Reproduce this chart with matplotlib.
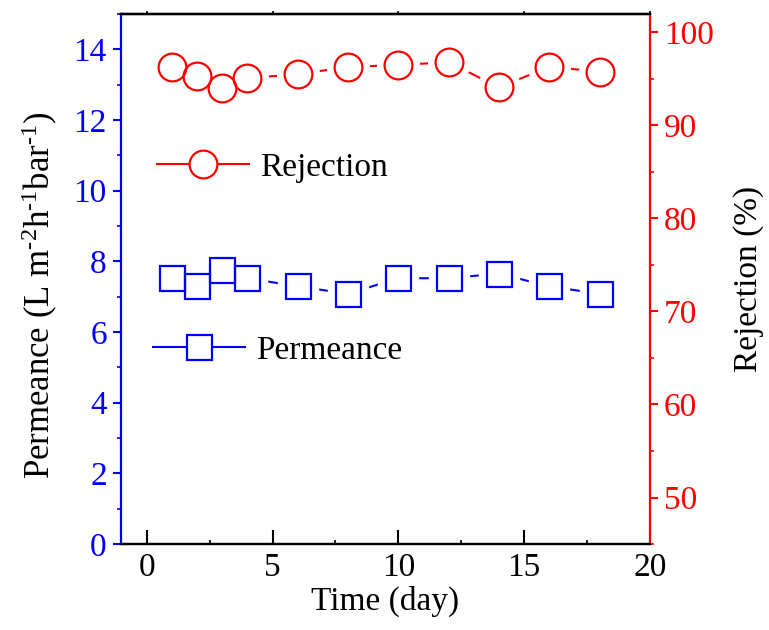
import matplotlib
matplotlib.use("Agg")
import matplotlib.pyplot as plt
from matplotlib.lines import Line2D
from matplotlib.ticker import MultipleLocator

plt.rcParams['font.family'] = ['Liberation Serif', 'DejaVu Serif']
plt.rcParams['mathtext.fontset'] = 'custom'
plt.rcParams['mathtext.rm'] = 'Liberation Serif'
plt.rcParams['mathtext.it'] = 'Liberation Serif:italic'

days = [1, 2, 3, 4, 6, 8, 10, 12, 14, 16, 18]
rejection = [96.3, 95.3, 94.0, 95.1, 95.5, 96.3, 96.5, 96.8, 94.1, 96.3, 95.8]
permeance = [7.52, 7.29, 7.74, 7.52, 7.29, 7.08, 7.52, 7.52, 7.65, 7.29, 7.08]

FS = 24
BLUE = '#0000ff'
RED = '#ff0000'

fig = plt.figure(figsize=(7.69, 6.30), dpi=100)
ax1 = fig.add_axes([0.157, 0.1365, 0.688, 0.8415])
ax2 = ax1.twinx()

# Permeance (left axis)
ax1.plot(days, permeance, color=BLUE, lw=1.5, zorder=1)
ax1.plot(days, permeance, ls='none', marker='s', ms=29, mfc='white', mec='white', zorder=2)
ax1.plot(days, permeance, ls='none', marker='s', ms=18, mfc='none', mec=BLUE, mew=1.6, zorder=3)

# Rejection (right axis)
ax2.plot(days, rejection, color=RED, lw=1.5, zorder=1)
ax2.plot(days, rejection, ls='none', marker='o', ms=30, mfc='white', mec='white', zorder=2)
ax2.plot(days, rejection, ls='none', marker='o', ms=20, mfc='none', mec=RED, mew=1.6, zorder=3)

ax1.set_xlim(-1.04, 20)
ax1.set_ylim(0, 15)
ax2.set_ylim(45, 102)

ax1.xaxis.set_major_locator(MultipleLocator(5))
ax1.xaxis.set_minor_locator(MultipleLocator(2.5))
ax1.yaxis.set_major_locator(MultipleLocator(2))
ax1.yaxis.set_minor_locator(MultipleLocator(1))
ax2.yaxis.set_major_locator(MultipleLocator(10))
ax2.yaxis.set_minor_locator(MultipleLocator(5))

for a in (ax1, ax2):
    for s in a.spines.values():
        s.set_linewidth(1.6)
ax1.spines['left'].set_color(BLUE)
ax2.spines['left'].set_visible(False)
ax2.spines['right'].set_color(RED)
ax1.spines['right'].set_visible(False)

ax1.tick_params(axis='x', which='major', direction='in', length=10, width=1.5,
                labelsize=FS, colors='black', top=False, pad=6)
ax1.tick_params(axis='x', which='minor', direction='in', length=3, width=1.2, top=False)
ax1.tick_params(axis='y', which='major', direction='out', length=6, width=1.5,
                labelsize=FS, colors=BLUE, pad=4)
ax1.tick_params(axis='y', which='minor', direction='out', length=3, width=1.2, colors=BLUE)
ax2.tick_params(axis='y', which='major', direction='out', length=6, width=1.5,
                labelsize=FS, colors=RED, pad=4)
ax2.tick_params(axis='y', which='minor', direction='out', length=3, width=1.2, colors=RED)

top = ax1.secondary_xaxis('top')
top.xaxis.set_major_locator(MultipleLocator(5))
top.tick_params(axis='x', direction='out', length=2, width=1.2, labeltop=False)
top.spines['top'].set_linewidth(1.6)

ax1.set_xlabel('Time (day)', fontsize=FS, labelpad=2)
ax1.set_ylabel('Permeance (L m$^{\\mathregular{\u20102}}$h$^{\\mathregular{\u20101}}$bar$^{\\mathregular{\u20101}}$)',
               fontsize=25, labelpad=8)
ax1.yaxis.set_label_coords(-0.115, 0.47)
ax2.set_ylabel('Rejection (%)', fontsize=FS, labelpad=14)

h_rej = Line2D([], [], color=RED, lw=1.5, marker='o', ms=20, mfc='white', mec=RED, mew=1.6)
h_perm = Line2D([], [], color=BLUE, lw=1.5, marker='s', ms=18, mfc='white', mec=BLUE, mew=1.6)

leg1 = ax2.legend([h_rej], ['Rejection'], loc='center left', bbox_to_anchor=(0.204, 0.734),
                  bbox_transform=fig.transFigure, frameon=False, fontsize=FS,
                  handlelength=2.75, handletextpad=0.35, borderpad=0, borderaxespad=0)
ax2.add_artist(leg1)
leg2 = ax2.legend([h_perm], ['Permeance'], loc='center left', bbox_to_anchor=(0.199, 0.444),
                  bbox_transform=fig.transFigure, frameon=False, fontsize=FS,
                  handlelength=2.75, handletextpad=0.35, borderpad=0, borderaxespad=0)

fig.savefig('out.png', dpi=100)
